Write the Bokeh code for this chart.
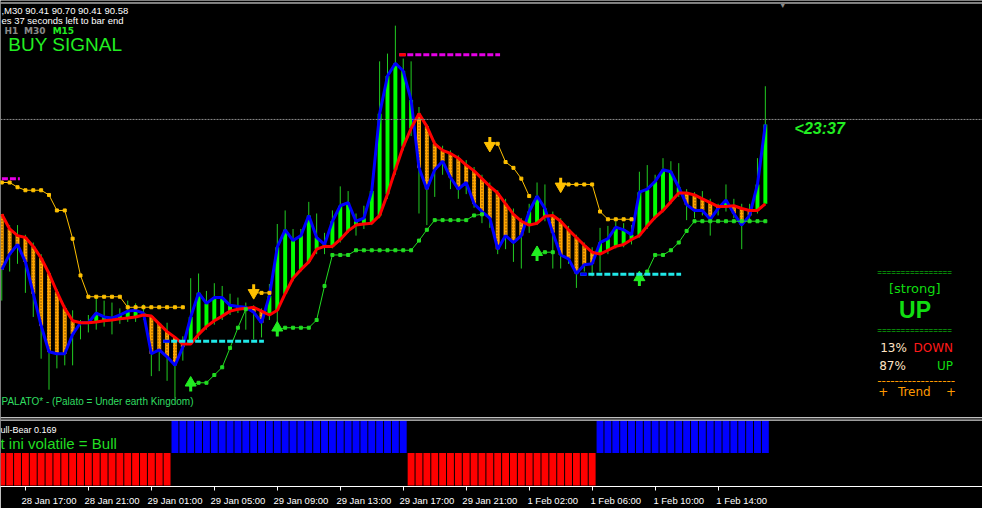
from bokeh.plotting import figure
from bokeh.models import Range1d, FixedTicker, Label, Span
from bokeh.embed import file_html
from bokeh.resources import INLINE

nan = float("nan")

# ---------------- data (USDJPY M30, prices) ----------------
tick_bars = [3, 11, 19, 27, 35, 43, 51, 59, 67, 75, 83, 91]
tick_labels = ["28 Jan 17:00", "28 Jan 21:00", "29 Jan 01:00", "29 Jan 05:00",
               "29 Jan 09:00", "29 Jan 13:00", "29 Jan 17:00", "29 Jan 21:00",
               "1 Feb 02:00", "1 Feb 06:00", "1 Feb 10:00", "1 Feb 14:00"]

high = [90.223, 90.198, 90.198, 90.163, 90.135, 90.093, 90.030, 89.967, 89.908, 89.890,
        89.855, 89.873, 89.936, 89.925, 89.918, 89.897, 89.925, 89.915, 89.911, 89.866,
        89.838, 89.845, 89.785, 89.796, 90.006, 90.023, 89.960, 89.988, 89.978, 89.950,
        89.936, 89.918, 89.908, 89.897, 89.985, 90.202, 90.251, 90.184, 90.184, 90.282,
        90.240, 90.170, 90.251, 90.338, 90.321, 90.240, 90.268, 90.345, 90.790, 90.818,
        90.919, 90.800, 90.790, 90.625, 90.562, 90.503, 90.485, 90.468, 90.450, 90.433,
        90.408, 90.380, 90.352, 90.324, 90.293, 90.258, 90.223, 90.275, 90.352, 90.345,
        90.247, 90.223, 90.195, 90.163, 90.135, 90.118, 90.188, 90.195, 90.212, 90.205,
        90.198, 90.391, 90.415, 90.380, 90.440, 90.429, 90.422, 90.328, 90.317, 90.321,
        90.293, 90.275, 90.345, 90.293, 90.275, 90.275, 90.440, 90.700]

low = [89.925, 90.030, 90.058, 89.953, 89.866, 89.715, 89.603, 89.680, 89.691, 89.691,
       89.785, 89.810, 89.820, 89.831, 89.803, 89.841, 89.848, 89.848, 89.855, 89.652,
       89.670, 89.635, 89.575, 89.708, 89.778, 89.785, 89.820, 89.838, 89.855, 89.873,
       89.880, 89.820, 89.785, 89.792, 89.855, 89.838, 89.960, 89.995, 90.030, 90.058,
       90.093, 90.093, 90.114, 90.135, 90.170, 90.160, 90.184, 90.198, 90.223, 90.293,
       90.380, 90.468, 90.520, 90.240, 90.198, 90.300, 90.380, 90.328, 90.293, 90.310,
       90.261, 90.205, 90.188, 90.093, 90.111, 90.065, 90.041, 90.170, 90.198, 90.212,
       90.041, 90.041, 90.058, 89.971, 90.030, 90.013, 90.030, 90.093, 90.114, 90.118,
       90.128, 90.153, 90.184, 90.219, 90.244, 90.275, 90.300, 90.216, 90.223, 90.233,
       90.160, 90.233, 90.247, 90.223, 90.111, 90.212, 90.240, 90.410]

fast_ma = [90.037, 90.093, 90.128, 90.065, 89.950, 89.834, 89.740, 89.733, 89.733, 89.803,
           89.845, 89.845, 89.880, 89.866, 89.862, 89.873, 89.887, 89.890, 89.880, 89.733,
           89.747, 89.722, 89.691, 89.757, 89.866, 89.953, 89.915, 89.936, 89.936, 89.908,
           89.904, 89.901, 89.883, 89.845, 89.943, 90.118, 90.181, 90.142, 90.160, 90.233,
           90.153, 90.128, 90.212, 90.268, 90.279, 90.212, 90.223, 90.321, 90.601, 90.737,
           90.783, 90.755, 90.650, 90.405, 90.328, 90.398, 90.429, 90.370, 90.328, 90.352,
           90.275, 90.247, 90.223, 90.111, 90.160, 90.135, 90.160, 90.247, 90.303, 90.258,
           90.170, 90.090, 90.076, 90.023, 90.055, 90.058, 90.135, 90.149, 90.191, 90.181,
           90.163, 90.317, 90.328, 90.356, 90.398, 90.391, 90.335, 90.272, 90.251, 90.251,
           90.219, 90.258, 90.289, 90.240, 90.198, 90.233, 90.345, 90.562]

slow_ma = [90.237, 90.184, 90.160, 90.153, 90.121, 90.079, 90.023, 89.957, 89.897, 89.852,
           89.845, 89.845, 89.848, 89.852, 89.855, 89.859, 89.862, 89.866, 89.873, 89.869,
           89.841, 89.813, 89.792, 89.768, 89.768, 89.803, 89.831, 89.852, 89.869, 89.887,
           89.894, 89.897, 89.901, 89.887, 89.873, 89.890, 89.950, 90.006, 90.037, 90.065,
           90.111, 90.121, 90.121, 90.146, 90.177, 90.198, 90.202, 90.205, 90.233, 90.310,
           90.398, 90.482, 90.548, 90.601, 90.555, 90.492, 90.468, 90.457, 90.440, 90.415,
           90.394, 90.366, 90.338, 90.314, 90.275, 90.237, 90.212, 90.198, 90.205, 90.230,
           90.233, 90.212, 90.181, 90.153, 90.125, 90.100, 90.093, 90.107, 90.121, 90.128,
           90.146, 90.160, 90.195, 90.226, 90.251, 90.282, 90.314, 90.314, 90.307, 90.293,
           90.279, 90.265, 90.265, 90.268, 90.258, 90.251, 90.251, 90.275]

stop_down = [90.352, 90.352, 90.335, 90.324, 90.324, 90.324, 90.307, 90.251, 90.251, 90.149,
             90.016, 89.939, 89.939, 89.939, 89.939, 89.939, 89.901, 89.901, 89.901, 89.901,
             89.901, 89.901, 89.901, 89.901, nan, nan, nan, nan, nan, nan,
             nan, nan, 89.953, 89.953, 89.953, nan, nan, nan, nan, nan,
             nan, nan, nan, nan, nan, nan, nan, nan, nan, nan,
             nan, nan, nan, nan, nan, nan, nan, nan, nan, nan,
             nan, nan, 90.492, 90.492, 90.426, 90.405, 90.366, 90.303, nan, nan,
             nan, 90.345, 90.345, 90.345, 90.345, 90.345, 90.247, 90.219, 90.219, 90.219,
             90.219, nan, nan, nan, nan, nan, nan, nan, nan, nan,
             nan, nan, nan, nan, nan, nan, nan, nan]

stop_up = [nan, nan, nan, nan, nan, nan, nan, nan, nan, nan,
           nan, nan, nan, nan, nan, nan, nan, nan, nan, nan,
           nan, nan, nan, nan, 89.621, 89.628, 89.628, 89.656, 89.684, 89.754,
           89.827, 89.894, nan, nan, nan, 89.820, 89.827, 89.827, 89.827, 89.827,
           89.855, 89.978, 90.090, 90.090, 90.090, 90.107, 90.107, 90.107, 90.107, 90.107,
           90.107, 90.107, 90.107, 90.142, 90.181, 90.216, 90.216, 90.216, 90.216, 90.216,
           90.233, 90.237, nan, nan, nan, nan, nan, nan, 90.093, 90.100,
           90.100, nan, nan, nan, nan, nan, nan, nan, nan, nan,
           nan, 90.002, 90.030, 90.090, 90.090, 90.107, 90.135, 90.177, 90.212, 90.212,
           90.212, 90.212, 90.212, 90.212, 90.212, 90.212, 90.212, 90.212]

down_arrow_bar = [32, 62, 71]
down_arrow_price = [89.960, 90.492, 90.345]
up_arrow_bar = [24, 35, 68, 81]
up_arrow_price = [89.621, 89.820, 90.093, 90.002]

level_price = [90.366, 90.814, 89.778, 90.020]
level_start = [-1.0, 50.5, 20.5, 73.5]
level_end = [2.3, 63.3, 33.3, 86.3]
level_color = ["#E600E6", "#E600E6", "#20E8E8", "#20E8E8"]
level_first = ["#E600E6", "#FF0000", "#0000FF", "#0000FF"]

bull_bear = [-1, -1, -1, -1, -1, -1, -1, -1, -1, -1, -1, -1, -1, -1, -1, -1, -1, -1, -1, -1,
             -1, -1, 1, 1, 1, 1, 1, 1, 1, 1, 1, 1, 1, 1, 1, 1, 1, 1, 1, 1,
             1, 1, 1, 1, 1, 1, 1, 1, 1, 1, 1, 1, -1, -1, -1, -1, -1, -1, -1, -1,
             -1, -1, -1, -1, -1, -1, -1, -1, -1, -1, -1, -1, -1, -1, -1, -1, 1, 1, 1, 1,
             1, 1, 1, 1, 1, 1, 1, 1, 1, 1, 1, 1, 1, 1, 1, 1, 1, 1]

bid = 90.58
bars = list(range(len(high)))

# ---------------- figure ----------------
FW, FH = 982, 486
p = figure(frame_width=FW, frame_height=FH,
           x_range=Range1d(-0.1625, 124.5875), y_range=Range1d(89.253, 91.01),
           output_backend="svg", toolbar_location=None, y_axis_location=None,
           background_fill_color="black", border_fill_color="black",
           min_border=0, outline_line_color=None)
p.grid.visible = False
p.extra_y_ranges = {"ind": Range1d(-1.03, 13.955)}

ax = p.xaxis[0]
ax.ticker = FixedTicker(ticks=[t + 3 for t in tick_bars], minor_ticks=tick_bars)
ax.major_label_overrides = {t + 3: s for t, s in zip(tick_bars, tick_labels)}
ax.major_tick_line_color = None
ax.minor_tick_line_color = "white"
ax.minor_tick_in = 0
ax.minor_tick_out = 4
ax.axis_line_color = "white"
ax.major_label_text_color = "white"
ax.major_label_text_font = "Liberation Sans"
ax.major_label_text_font_size = "9.5px"
ax.major_label_standoff = 2

# lower indicator panel
p.vbar(x=bars, top=bull_bear, bottom=0, width=0.875, line_color=None,
       fill_color=["#0000FF" if v > 0 else "#FF0000" for v in bull_bear], y_range_name="ind")

# separators / borders
for loc in [91.001, 89.5015, 89.493]:
    p.add_layout(Span(location=loc, dimension="width", line_color="white", line_width=1))
p.add_layout(Span(location=bid, dimension="width", line_color="#8c8c8c", line_width=1, line_dash="2 1"))

# price bars (high-low)
p.segment(x0=bars, y0=low, x1=bars, y1=high, line_color="#22CC22", line_width=1)

# histogram between averages
up_idx = [i for i in bars if fast_ma[i] > slow_ma[i]]
dn_idx = [i for i in bars if fast_ma[i] <= slow_ma[i]]
p.vbar(x=up_idx, top=[fast_ma[i] for i in up_idx], bottom=[slow_ma[i] for i in up_idx],
       width=0.5, fill_color="#00FF00", line_color=None)
p.vbar(x=dn_idx, top=[fast_ma[i] for i in dn_idx], bottom=[slow_ma[i] for i in dn_idx],
       width=0.5, fill_color="#FFA500", line_color=None,
       hatch_pattern="dot", hatch_color="#7a4a00", hatch_scale=3, hatch_weight=1)

p.line(bars, fast_ma, line_color="#0000FF", line_width=3)
p.line(bars, slow_ma, line_color="#FF0000", line_width=3)

# trailing stops
p.line(bars, stop_down, line_color="#FFC000", line_width=1)
p.scatter(bars, stop_down, marker="square", size=3, color="#FFC000")
p.line(bars, stop_up, line_color="#22DD22", line_width=1)
p.scatter(bars, stop_up, marker="square", size=3, color="#22DD22")

# arrows
PX = 0.0035
p.segment(x0=down_arrow_bar, x1=down_arrow_bar,
          y0=[v + 7 * PX for v in down_arrow_price], y1=[v + 1 * PX for v in down_arrow_price],
          line_color="#FFC000", line_width=3)
p.scatter(down_arrow_bar, [v - 1.9 * PX for v in down_arrow_price], marker="inverted_triangle",
          size=11, color="#FFC000")
p.segment(x0=up_arrow_bar, x1=up_arrow_bar,
          y0=[v - 7 * PX for v in up_arrow_price], y1=[v - 1 * PX for v in up_arrow_price],
          line_color="#22EE22", line_width=3)
p.scatter(up_arrow_bar, [v + 1.9 * PX for v in up_arrow_price], marker="triangle",
          size=11, color="#22EE22")

# dashed levels
p.segment(x0=level_start, x1=level_end, y0=level_price, y1=level_price,
          line_color=level_color, line_width=3, line_dash="6 2")
p.segment(x0=level_start, x1=[s + 0.85 for s in level_start], y0=level_price, y1=level_price,
          line_color=level_first, line_width=3)

# ---------------- texts ----------------
SX = FW / 998.0
SY = FH / 502.0


def lab(text, rx, ry, color, size, font="Liberation Sans", style="normal", align="left"):
    p.add_layout(Label(x=rx * SX, y=(502 - ry) * SY, x_units="screen", y_units="screen",
                       text=text, text_color=color, text_font_size=f"{size}px",
                       text_font=font, text_font_style=style, text_align=align,
                       text_baseline="middle"))


lab(",M30 90.41 90.70 90.41 90.58", 1, 10.5, "white", 9.5)
lab("es 37 seconds left to bar end", 1, 20.5, "white", 9.5)
lab("H1", 4, 31, "#8a8a8a", 9, font="DejaVu Sans", style="bold")
lab("M30", 24, 31, "#8a8a8a", 9, font="DejaVu Sans", style="bold")
lab("M15", 53, 31, "#22EE22", 9, font="DejaVu Sans", style="bold")
lab("BUY SIGNAL", 8, 45, "#22EE22", 19)
lab("\u25BC", 795, 5, "#8a8a8a", 7, align="center")
lab("<23:37", 807, 132, "#22EE22", 16, style="bold italic")

lab("================", 891, 281, "#11DD11", 8)
lab("[strong]", 903, 297.5, "#11DD11", 13, font="DejaVu Sans")
lab("UP", 929.5, 320, "#11DD11", 23, style="bold", align="center")
lab("================", 891, 341, "#11DD11", 8)
lab("13%", 894, 358.5, "#FFE4C4", 12, font="DejaVu Sans")
lab("DOWN", 968, 358.5, "#FF1A1A", 12, font="DejaVu Sans", align="right")
lab("87%", 893, 378, "#FFE4C4", 12, font="DejaVu Sans")
lab("UP", 968, 378, "#11DD11", 12, font="DejaVu Sans", align="right")
lab("------------------", 891, 393, "#FF9A00", 12, font="DejaVu Sans")
lab("+", 892, 404, "#FF9A00", 12, font="DejaVu Sans")
lab("Trend", 912, 404, "#FF9A00", 12, font="DejaVu Sans")
lab("+", 961, 404, "#FF9A00", 12, font="DejaVu Sans")

lab("PALATO* - (Palato = Under earth Kingdom)", 1, 414, "#30DD60", 10)
lab("ull-Bear 0.169", 0, 443.5, "white", 9)
lab("t ini volatile = Bull", 0, 457.5, "#22DD22", 15)

open("out.html", "w").write(file_html(p, INLINE))
